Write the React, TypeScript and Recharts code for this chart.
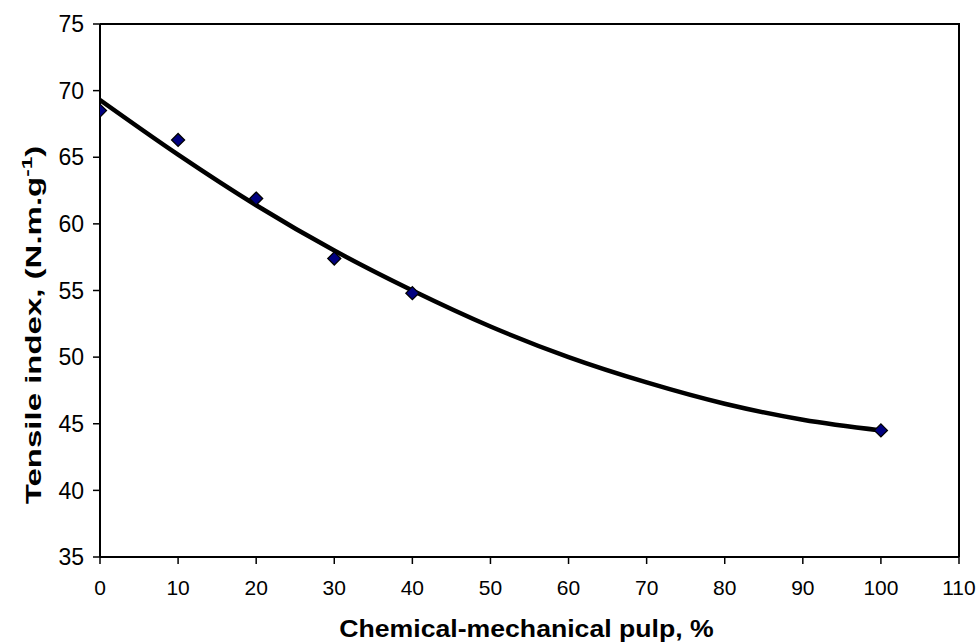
import React from 'react';
import {
  ComposedChart,
  Line,
  Scatter,
  XAxis,
  YAxis,
  Label,
} from 'recharts';

// measured points
const pulpPct = [0, 10, 20, 30, 40, 100];
const tensileIdx = [68.5, 66.3, 61.9, 57.4, 54.8, 44.5];

// trend line
const trendPct = [0, 10, 20, 30, 40, 50, 60, 70, 80, 90, 100];
const trendIdx = [69.3, 65.2, 61.4, 58.0, 55.0, 52.3, 50.0, 48.1, 46.5, 45.3, 44.5];

const xTicks = [0, 10, 20, 30, 40, 50, 60, 70, 80, 90, 100, 110];
const yTicks = [35, 40, 45, 50, 55, 60, 65, 70, 75];

const points = pulpPct.map((x, i) => ({ x, y: tensileIdx[i] }));
const trend = trendPct.map((x, i) => ({ x, y: trendIdx[i] }));

const FONT = '"Liberation Sans", Arial, sans-serif';

const W = 979;
const H = 644;
const M = { top: 24, right: 20, bottom: 0, left: 0 };
const Y_AXIS_W = 100;
const X_AXIS_H = 87;

const Diamond = (props: any) => {
  const { cx, cy } = props;
  const r = 6.5;
  return (
    <polygon
      points={`${cx},${cy - r} ${cx + r},${cy} ${cx},${cy + r} ${cx - r},${cy}`}
      fill="#000080"
      stroke="#000"
      strokeWidth={1.3}
    />
  );
};

// the original titles are stretched along their reading direction
const XTitle = (props: any) => {
  const { viewBox } = props;
  const cx = viewBox.x + viewBox.width / 2 - 3;
  return (
    <text
      transform={`translate(${cx} 637) scale(1.11 1)`}
      textAnchor="middle"
      fontFamily={FONT}
      fontWeight="bold"
      fontSize={24}
      fill="#000"
    >
      Chemical-mechanical pulp, %
    </text>
  );
};

const YTitle = () => (
  <text
    transform="translate(41 325) rotate(-90) scale(1.5 1)"
    textAnchor="middle"
    fontFamily={FONT}
    fontWeight="bold"
    fontSize={22}
    fill="#000"
  >
    Tensile index, (N.m.g
    <tspan fontSize={15} dy={-9}>-1</tspan>
    <tspan dy={9}>)</tspan>
  </text>
);

// plot-area frame (top and right edges), drawn over the chart
const PlotFrame = () => {
  const left = M.left + Y_AXIS_W;
  const right = W - M.right;
  const top = M.top;
  const bottom = H - M.bottom - X_AXIS_H;
  return (
    <svg
      width={W}
      height={H}
      style={{ position: 'absolute', left: 0, top: 0, pointerEvents: 'none', zIndex: 5 }}
    >
      <path
        d={`M${left},${top} H${right} V${bottom}`}
        fill="none"
        stroke="#000"
        strokeWidth={2}
      />
    </svg>
  );
};

export default function App() {
  return (
    <div style={{ position: 'absolute', left: 0, top: 0, width: W, height: H, background: '#fff' }}>
      <ComposedChart width={W} height={H} margin={M}>
        <XAxis
          type="number"
          dataKey="x"
          domain={[0, 110]}
          ticks={xTicks}
          allowDataOverflow
          height={X_AXIS_H}
          axisLine={{ stroke: '#000', strokeWidth: 2 }}
          tickLine={{ stroke: '#000', strokeWidth: 1.5 }}
          tickSize={7}
          tickMargin={16}
          tick={{ fontSize: 21, fill: '#000', fontFamily: FONT }}
        >
          <Label content={<XTitle />} />
        </XAxis>
        <YAxis
          type="number"
          dataKey="y"
          domain={[35, 75]}
          ticks={yTicks}
          allowDataOverflow
          width={Y_AXIS_W}
          axisLine={{ stroke: '#000', strokeWidth: 2 }}
          tickLine={{ stroke: '#000', strokeWidth: 1.5 }}
          tickSize={7}
          tickMargin={9}
          tick={{ fontSize: 23, fill: '#000', fontFamily: FONT }}
        >
          <Label content={<YTitle />} />
        </YAxis>
        <Scatter data={points} dataKey="y" shape={<Diamond />} isAnimationActive={false} />
        <Line
          data={trend}
          dataKey="y"
          type="monotone"
          stroke="#000"
          strokeWidth={4.5}
          dot={false}
          activeDot={false}
          isAnimationActive={false}
        />
      </ComposedChart>
      <PlotFrame />
    </div>
  );
}
